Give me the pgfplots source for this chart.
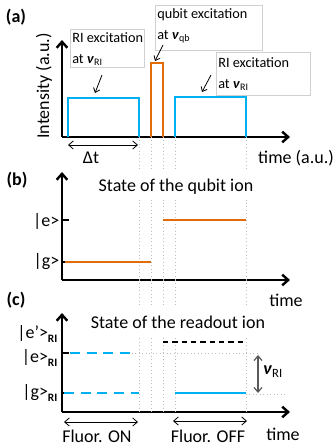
\documentclass[border=0pt]{standalone}
\usepackage{fontspec}
\setmainfont{Carlito}
\usepackage{pgfplots}
\pgfplotsset{compat=1.18}
\usetikzlibrary{arrows.meta}

\definecolor{riblue}{HTML}{00B0F0}
\definecolor{qborange}{HTML}{E36C0A}
\definecolor{guidegray}{HTML}{BDBDBD}
\definecolor{boxgray}{HTML}{D0D0D0}
\definecolor{arrgray}{HTML}{595959}

\newcommand{\nuRI}{\textbf{\textit{ν}}\textsubscript{RI}}
\newcommand{\nuqb}{\textbf{\textit{ν}}\textsubscript{qb}}
\newcommand{\sRI}{\raisebox{-0.45ex}{\fontsize{8.5}{8.5}\selectfont\bfseries RI}}

% all axes share one scale: one data unit = one pixel of the reference
\pgfplotsset{
  scheme/.style={
    x=0.75pt, y=0.75pt,
    axis lines=left,
    axis line style={line width=2pt,
      -{Straight Barb[length=4.5pt,width=8pt,line width=1.8pt]}},
    xmin=0, xmax=228, ymin=0,
    xtick=\empty, ytick=\empty,
    anchor=south west,
    clip=false,
  },
  guide/.style={guidegray, line width=0.6pt, dotted},
  pulse/.style={line width=1.6pt},
  level ticks/.style={
    ytick={#1}, yticklabels={},
    tick align=inside, major tick length=5pt,
    tick style={black, line width=1.3pt},
  },
}

\begin{document}
\begin{tikzpicture}[x=0.75pt, y=0.75pt, font=\fontsize{13.5}{16}\selectfont,
  annot/.style={-{Straight Barb[length=3pt,width=5pt]}, line width=0.6pt},
  span/.style={{Straight Barb[length=3.5pt,width=6pt]}-{Straight Barb[length=3.5pt,width=6pt]}, line width=0.6pt}]
\path[use as bounding box] (0,0) rectangle (335,-448);

% ---------------- (a) pulse sequence
\begin{axis}[scheme, at={(46.5pt,-102.75pt)}, ymax=97]
\addplot[guide, ycomb] coordinates {(77,-33)(89,-33)(101,-33)(113,-33)(184,-33)};
\addplot[pulse, riblue] coordinates {(6,0)(6,39)(77,39)(77,0)};
\addplot[pulse, qborange] coordinates {(89,0)(89,74)(101,74)(101,0)};
\addplot[pulse, riblue] coordinates {(113,0)(113,40)(184,40)(184,0)};
\end{axis}

% ---------------- (b) qubit ion
\begin{axis}[scheme, at={(46.5pt,-210pt)}, ymax=108, level ticks={18,60}]
\addplot[guide, ycomb] coordinates {(77,80)(89,80)(101,80)(113,80)(184,80)};
\addplot[guide, ycomb] coordinates {(77,-27)(89,-27)(101,-27)(113,-27)(184,-27)};
\addplot[pulse, qborange] coordinates {(3,18)(89,18)};
\addplot[pulse, qborange] coordinates {(101,60)(184,60)};
\end{axis}

% ---------------- (c) readout ion
\begin{axis}[scheme, at={(46.5pt,-309pt)}, ymax=99, level ticks={19,59}]
\addplot[guide, ycomb] coordinates {(77,75)(89,75)(101,75)(113,75)(184,75)};
\addplot[guide] coordinates {(70,59)(195,59)};
\addplot[guide] coordinates {(184,18)(225,18)};
\addplot[pulse, riblue, dash pattern=on 7.5pt off 5pt] coordinates {(8,59)(70,59)};
\addplot[pulse, riblue, dash pattern=on 7.5pt off 5pt] coordinates {(2,19)(77,19)};
\addplot[line width=1.1pt, black, dash pattern=on 4pt off 3pt] coordinates {(101,70)(183,70)};
\addplot[pulse, riblue] coordinates {(113,19)(184,19)};
\end{axis}

% ---------------- annotations of (a)
\node[font=\fontsize{13.5}{16}\selectfont\bfseries] at (16,-17) {(a)};
\node[rotate=90] at (44,-86) {Intensity (a.u.)};
\draw[span] (68,-145) -- (138,-145);
\node at (91,-158) {Δt};
\node at (296,-158) {time (a.u.)};

\begin{scope}[font=\fontsize{10.7}{12}\selectfont]
\draw[boxgray, fill=white, line width=0.6pt] (70,-29) rectangle (144,-67);
\node[anchor=west, inner sep=0pt] at (72,-38) {RI excitation};
\node[anchor=west, inner sep=0pt] at (72,-60) {at \nuRI};
\draw[annot] (102,-75) -- (95,-93);

\draw[boxgray, fill=white, line width=0.6pt] (155,-5) rectangle (262,-50);
\node[anchor=west, inner sep=0pt] at (157,-15) {qubit excitation};
\node[anchor=west, inner sep=0pt] at (157,-37) {at \nuqb};
\draw[annot] (163,-45) -- (155,-61);

\draw[boxgray, fill=white, line width=0.6pt] (216,-52) rectangle (310,-95);
\node[anchor=west, inner sep=0pt] at (218,-63) {RI excitation};
\node[anchor=west, inner sep=0pt] at (218,-85) {at \nuRI};
\draw[annot] (211,-75) -- (202,-92);
\end{scope}

% ---------------- annotations of (b)
\node[font=\fontsize{13.5}{16}\selectfont\bfseries] at (17,-180) {(b)};
\node at (176,-187) {State of the qubit ion};
\node[anchor=east, inner sep=1pt] at (61,-221) {|e>};
\node[anchor=east, inner sep=1pt] at (61,-262) {|g>};
\node at (286,-300) {time};

% ---------------- annotations of (c)
\node[font=\fontsize{13.5}{16}\selectfont\bfseries] at (16,-300) {(c)};
\node at (178,-322) {State of the readout ion};
\node[anchor=east, inner sep=1pt] at (59,-334) {|e\char"27>\sRI};
\node[anchor=east, inner sep=1pt] at (59,-358) {|e>\sRI};
\node[anchor=east, inner sep=1pt] at (59,-393) {|g>\sRI};
\draw[{Straight Barb[length=3.5pt,width=6pt]}-{Straight Barb[length=3.5pt,width=6pt]}, arrgray, line width=0.9pt] (258,-355) -- (258,-393);
\node at (273,-372) {\nuRI};
\draw[span] (64,-422) -- (138,-422);
\draw[span] (173,-421) -- (247,-421);
\node at (97,-436) {Fluor. ON};
\node at (208,-436) {Fluor. OFF};
\node at (283,-434) {time};
\end{tikzpicture}
\end{document}
